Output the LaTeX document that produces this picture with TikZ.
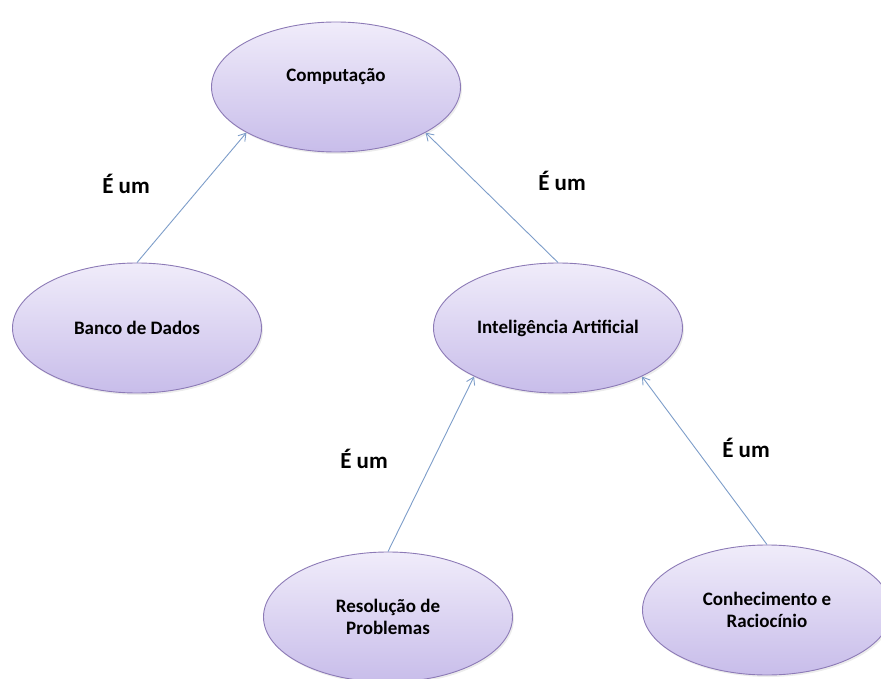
\documentclass[tikz,border=0pt]{standalone}
\usepackage{fontspec}
\setmainfont{Carlito}
\usetikzlibrary{shapes.geometric,arrows.meta,shadows}
\definecolor{ovaltop}{HTML}{F0ECFA}
\definecolor{ovalbot}{HTML}{C8BDEA}
\definecolor{ovalline}{HTML}{8C7AB6}
\definecolor{linkblue}{HTML}{7D9DC9}
\tikzset{
  concept/.style={ellipse, draw=ovalline, line width=0.9pt,
    top color=ovaltop, bottom color=ovalbot,
    minimum width=249pt, minimum height=130pt, inner sep=0pt,
    font=\bfseries\fontsize{19}{22}\selectfont, align=center,
    drop shadow={shadow xshift=1.5pt, shadow yshift=-2pt, opacity=0.15}},
  isa/.style={draw=linkblue, line width=0.9pt, -{Straight Barb[length=7pt,width=9pt]}},
  isalabel/.style={font=\bfseries\fontsize{23}{26}\selectfont}
}
\begin{document}
\begin{tikzpicture}[x=1pt,y=-1pt]
\useasboundingbox (0,0) rectangle (881,679);
\node[concept] (comp) at (336,87) {\raisebox{5pt}[0pt][0pt]{Computação}};
\node[concept] (bd) at (137,328) {Banco de Dados};
\node[concept] (ia) at (558,328) {Inteligência Artificial};
\node[concept] (rp) at (388,617) {Resolução de\\Problemas};
\node[concept] (cr) at (767,610) {Conhecimento e\\Raciocínio};
% "is a" links, drawn from the narrower concept to the broader one
\draw[isa] (bd.north) -- (comp.207);
\draw[isa] (ia.north) -- (comp.333);
\draw[isa] (rp.north) -- (ia.210);
\draw[isa] (cr.north) -- (ia.330);
\node[isalabel] (l1) at (126,184) {É um};
\node[isalabel] (l2) at (562,181) {É um};
\node[isalabel] (l3) at (364,459) {É um};
\node[isalabel] (l4) at (746,448) {É um};
\end{tikzpicture}
\end{document}
